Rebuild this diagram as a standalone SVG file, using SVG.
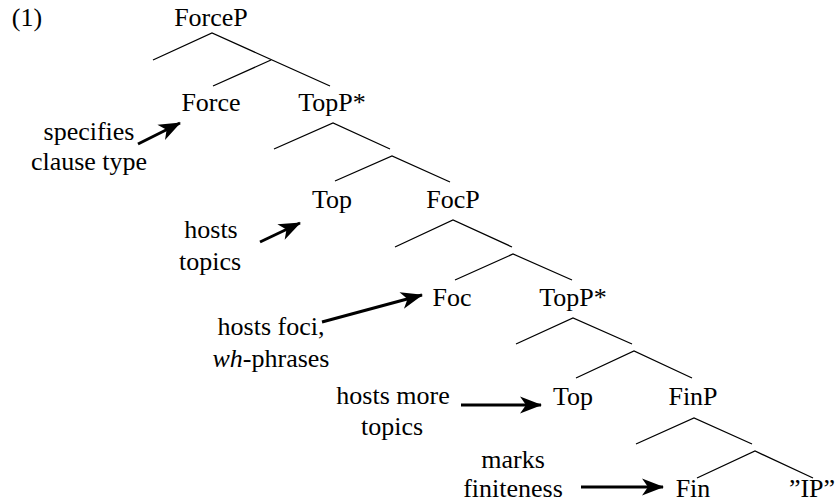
<svg xmlns="http://www.w3.org/2000/svg" width="837" height="503" viewBox="0 0 837 503">
<style>
text{font-family:"Liberation Serif","Times New Roman",serif;font-size:26px;fill:#000;text-anchor:middle}
.e{stroke:#000;stroke-width:1.3;fill:none}
.a{stroke:#000;stroke-width:3;fill:none;marker-end:url(#ah)}
</style>
<defs>
<marker id="ah" markerUnits="userSpaceOnUse" viewBox="-22 -10 24 20" refX="0" refY="0" markerWidth="24" markerHeight="20" orient="auto">
<path d="M1,0 L-21,-8.5 L-15,0 L-21,8.5 Z" fill="#000"/>
</marker>
</defs>
<rect width="837" height="503" fill="#fff"/>
<g id="ex-number"><text x="27" y="26">(1)</text></g>
<g id="ForceP"><text x="211" y="26">ForceP</text></g>
<g id="Force"><text x="211" y="111">Force</text></g>
<g id="TopP1"><text x="332" y="111">TopP*</text></g>
<g id="Top1"><text x="332" y="208">Top</text></g>
<g id="FocP"><text x="453" y="208">FocP</text></g>
<g id="Foc"><text x="452" y="306">Foc</text></g>
<g id="TopP2"><text x="573" y="306">TopP*</text></g>
<g id="Top2"><text x="573" y="405">Top</text></g>
<g id="FinP"><text x="693" y="405">FinP</text></g>
<g id="Fin"><text x="693" y="497">Fin</text></g>
<g id="IP"><text x="812" y="497">”IP”</text></g>
<g id="note-force"><text x="89" y="140">specifies</text><text x="89" y="170">clause type</text></g>
<g id="note-top1"><text x="211" y="238">hosts</text><text x="210" y="270">topics</text></g>
<g id="note-foc"><text x="271" y="335">hosts foci,</text><text x="271" y="367"><tspan font-style="italic">wh</tspan>-phrases</text></g>
<g id="note-top2"><text x="393" y="404">hosts more</text><text x="392" y="435">topics</text></g>
<g id="note-fin"><text x="513" y="468">marks</text><text x="513" y="497">finiteness</text></g>
<g id="connectors">
<path class="e" d="M153,60 L212,33 L330,86 M271,60 L213,86"/>
<path class="e" d="M274,149 L333,123 L390,149 M335,181 L392,156 L450,182"/>
<path class="e" d="M395,247 L453,220 L512,247 M455,280 L513,254 L572,280"/>
<path class="e" d="M516,344 L573,318 L632,344 M576,378 L634,351 L692,378"/>
<path class="e" d="M636,444 L694,418 L752,444 M697,478 L755,451 L813,478"/>
<path class="a" d="M138,144 L180,123"/>
<path class="a" d="M260,242 L300,223"/>
<path class="a" d="M322,322 L422,295"/>
<path class="a" d="M461,405 L541,405"/>
<path class="a" d="M581,487 L663,487"/>
</g>
</svg>
